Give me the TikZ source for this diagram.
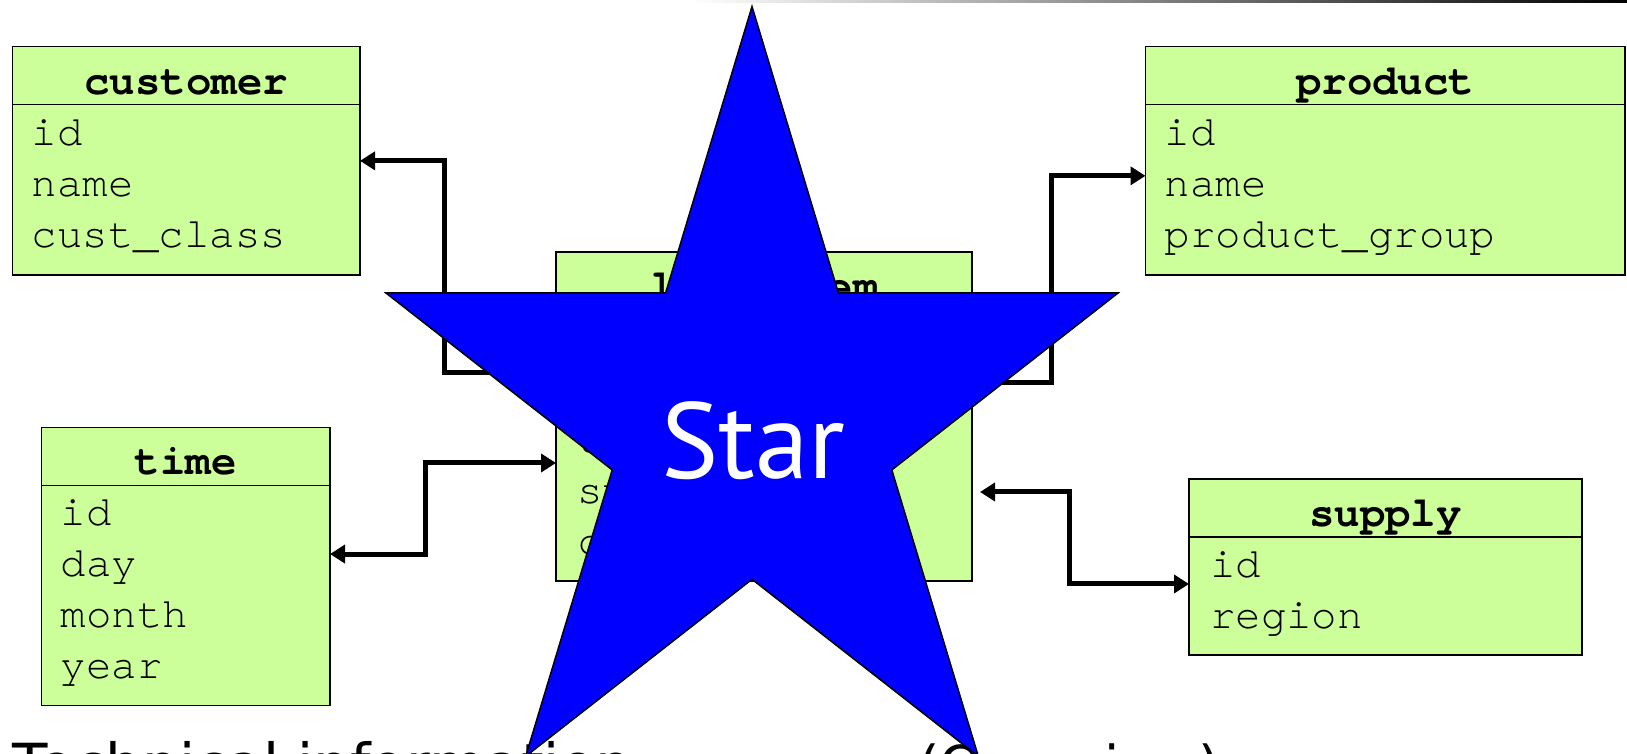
\documentclass[tikz,border=0pt]{standalone}
\usepackage{fontspec}
\setmainfont{DejaVu Sans}
\setmonofont{TeX Gyre Cursor}
\newfontfamily\starfont{PT Sans}
\usetikzlibrary{arrows.meta,calc,positioning}
\definecolor{tablegreen}{RGB}{204,255,153}
\definecolor{starblue}{RGB}{0,0,255}

\tikzset{
  tbl/.style={draw, fill=tablegreen, line width=1.5pt, rectangle, inner sep=0pt, outer sep=0pt},
  hdr/.style={anchor=base, inner sep=0pt, font=\fontsize{42.4}{50}\selectfont\ttfamily\bfseries},
  fld/.style={anchor=base west, inner sep=0pt, font=\fontsize{42.4}{50}\selectfont\ttfamily},
  link/.style={line width=5pt, {Triangle[length=15pt,width=18pt]}-{Triangle[length=15pt,width=18pt]}},
  starshape/.style={fill=starblue, draw=black, line width=1.5pt},
  caption/.style={anchor=base west, inner sep=0pt, font=\fontsize{58}{70}\selectfont}
}

\begin{document}
\begin{tikzpicture}[x=1pt,y=1pt]
\useasboundingbox (0,0) rectangle (1627,754);
\clip (0,0) rectangle (1627,754);
% rule at the top of the slide
\shade[left color=white, right color=black] (690,751.5) rectangle (1627,754);

% tables
\node[tbl, minimum width=347.5pt, minimum height=228.3pt] (customer) at (186.25,593.15) {};
\node[tbl, minimum width=479.5pt, minimum height=228.3pt] (product) at (1385.25,593.15) {};
\node[tbl, minimum width=416pt, minimum height=329pt] (lineitem) at (764,337.5) {};
\node[tbl, minimum width=288.5pt, minimum height=278.1pt] (time) at (185.75,187.45) {};
\node[tbl, minimum width=393pt, minimum height=176pt] (supply) at (1385.5,187) {};

\foreach \tname/\thead in {customer/customer, product/product, lineitem/line\_item, time/time, supply/supply} {
  \node[hdr] at ([yshift=-47.5pt]\tname.north) {\thead};
  \draw[line width=1.5pt] ([yshift=-58pt]\tname.north west) -- ([yshift=-58pt]\tname.north east);
}
\foreach \f [count=\i from 0] in {id,name,cust\_class}
  \node[fld] at ([xshift=19pt,yshift={-98.5-51*\i}]customer.north west) {\f};
\foreach \f [count=\i from 0] in {id,name,product\_group}
  \node[fld] at ([xshift=19pt,yshift={-98.5-51*\i}]product.north west) {\f};
\foreach \f [count=\i from 0] in {customer\_id,product\_id,time\_id,supply\_id,cost}
  \node[fld] at ([xshift=21pt,yshift={-98.5-51*\i}]lineitem.north west) {\f};
\foreach \f [count=\i from 0] in {id,day,month,year}
  \node[fld] at ([xshift=19pt,yshift={-98.5-51*\i}]time.north west) {\f};
\foreach \f [count=\i from 0] in {id,region}
  \node[fld] at ([xshift=21pt,yshift={-98.5-51*\i}]supply.north west) {\f};

% links
\draw[link] (customer.east) -- ++(84,0) |- ([yshift=43.5pt]lineitem.west);
\draw[link] ([yshift=34pt]lineitem.east) -- ++(79,0) |- ([yshift=-15pt]product.west);
\draw[link] ([yshift=12.5pt]time.east) -- ++(95.5,0) |- ([yshift=-46.5pt]lineitem.west);
\draw[link] ([xshift=8pt,yshift=-75.5pt]lineitem.east) -- ++(89,0) |- ([yshift=-17pt]supply.west);

% caption, cut by the bottom edge
\node[caption] (title) at (12.5,-31.5) {Technical information};
\node[caption, font=\fontsize{55}{66}\selectfont] (subtitle) at (918,-31.5) {(Overview)};

% the star on top
\coordinate (starc) at (752,333);
\draw[starshape] ($(starc)+(90:385 and 414.5)$)
  \foreach \k in {0,...,4} { -- ($(starc)+(90+72*\k:385 and 414.5)$) -- ($(starc)+(126+72*\k:147 and 158.3)$) } -- cycle;
\node[font=\fontsize{108}{130}\selectfont\starfont, text=white, anchor=base, inner sep=0pt] (startext) at (753.5,275) {Star};
\end{tikzpicture}
\end{document}
